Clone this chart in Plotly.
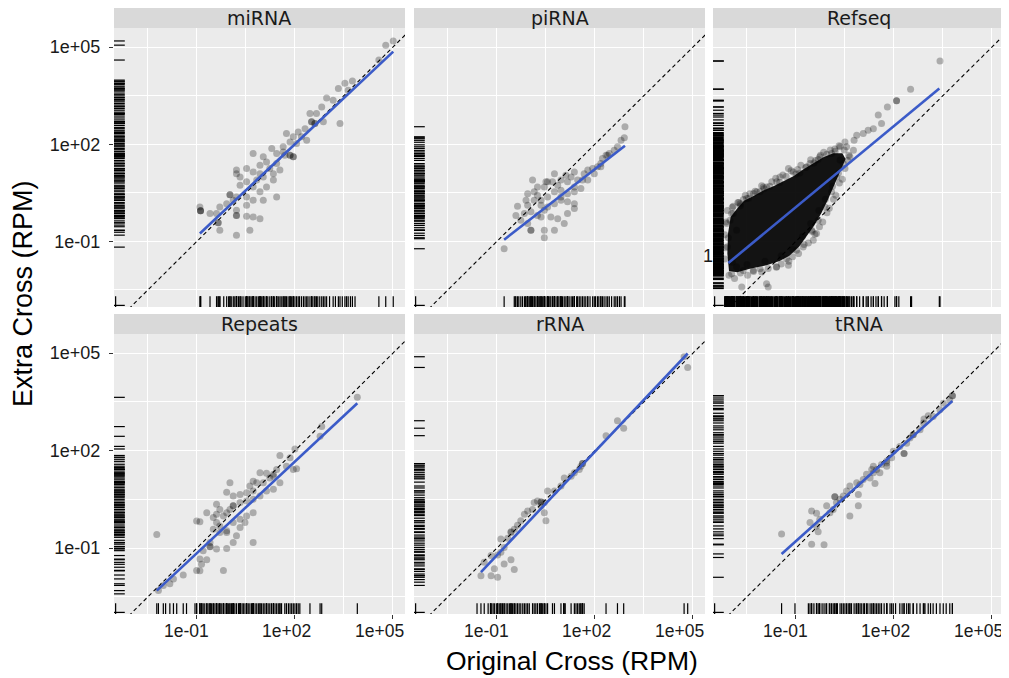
import numpy as np
import plotly.graph_objects as go

# ---------------- data (log10 RPM values) ----------------
panels = ["miRNA", "piRNA", "Refseq", "Repeats", "rRNA", "tRNA"]
tick_vals = [1e-1, 1e2, 1e5]
tick_text = ["1e-01", "1e+02", "1e+05"]
minor_grid_vals = [10 ** -2.5, 10 ** 0.5, 10 ** 3.5]
x_range_log = [-3.54, 5.37]
y_range_log = [-3.03, 5.59]

# (log10 original, log10 extra) for each plotted point
mirna_points_log = [
    (5.01, 5.19), (4.78, 5.06), (4.57, 4.60), (3.76, 3.95), (3.53, 3.88), (3.33, 3.72), (3.63, 3.67),
    (2.97, 3.43), (3.17, 3.36), (2.82, 3.15), (2.66, 2.95), (2.46, 2.95), (3.38, 2.64), (2.87, 2.69),
    (2.61, 2.64), (2.51, 2.69), (2.31, 2.48), (2.10, 2.38), (2.20, 2.23), (1.95, 2.23), (1.85, 2.07),
    (1.74, 2.33), (2.05, 2.02), (2.36, 2.12), (1.64, 1.92), (1.85, 1.66), (1.95, 1.61), (1.69, 1.66),
    (1.44, 1.71), (1.29, 1.87), (1.03, 1.61), (1.13, 1.45), (1.44, 1.40), (1.54, 1.20), (1.34, 1.09),
    (1.23, 1.25), (0.93, 1.35), (0.72, 1.71), (0.52, 1.25), (0.21, 1.20), (0.21, 1.09), (0.72, 1.14),
    (1.03, 0.99), (0.83, 0.89), (1.13, 0.68), (1.34, 0.89), (0.72, 0.68), (0.52, 0.84), (0.32, 0.73),
    (0.93, 0.53), (1.03, 0.27), (0.72, 0.27), (0.52, 0.37), (0.11, 0.27), (0.01, 0.44), (0.21, 0.37),
    (1.44, 0.37), (0.52, 0.11), (0.21, -0.04), (0.21, -0.20), (-0.09, 0.16), (-0.30, 0.06),
    (-0.40, -0.14), (-0.35, -0.43), (-0.30, -0.66), (-0.60, -0.14), (-0.91, 0.06), (-0.89, -0.06),
    (0.52, -0.23), (0.72, -0.25), (0.93, -0.30), (0.62, -0.66), (0.21, -0.81), (0.32, 0.99),
    (0.93, 1.09), (1.64, 1.76),
    (2.61, 2.64), (2.51, 2.69), (1.85, 1.66), (1.95, 1.61), (0.01, 0.44), (0.21, -0.20),
    (-0.35, -0.43), (-0.89, -0.06), (-0.89, -0.06),
]
pirna_points_log = [
    (2.92, 2.54), (2.90, 2.20), (2.80, 2.12), (2.69, 1.92), (2.59, 1.81), (2.44, 1.71), (2.34, 1.66),
    (2.23, 1.56), (2.18, 1.40), (2.08, 1.30), (1.93, 1.25), (1.98, 1.09), (1.78, 1.20), (1.67, 1.09),
    (1.62, 0.89), (1.47, 0.89), (1.37, 1.14), (1.27, 0.99), (1.16, 0.84), (1.11, 1.04), (0.96, 0.89),
    (0.86, 0.73), (0.76, 1.09), (0.70, 0.84), (0.55, 0.84), (0.45, 0.68), (0.24, 0.68), (0.14, 0.53),
    (0.24, 0.42), (0.35, 0.27), (0.55, 0.37), (0.76, 0.53), (0.96, 0.58), (1.16, 0.47), (1.37, 0.53),
    (1.37, 0.68), (1.57, 0.63), (1.16, 0.22), (0.96, 0.27), (0.76, 0.16), (0.55, 0.06), (0.35, 0.11),
    (0.14, 0.27), (-0.06, 0.47), (-0.11, 0.27), (-0.06, 0.11), (-0.16, -0.14), (0.04, -0.09),
    (0.24, -0.20), (0.45, -0.04), (0.65, -0.25), (0.86, -0.30), (1.06, -0.45), (0.76, -0.66),
    (0.45, -0.66), (0.04, -0.66), (-0.06, -0.45), (-0.27, -0.35), (-0.37, 0.08), (-0.42, -0.20),
    (0.45, -0.89), (-0.78, -1.23), (0.09, 0.89), (0.50, 0.84), (1.37, 0.01), (1.16, -0.14),
    (1.37, 0.16), (0.04, -0.66), (0.35, -0.25), (0.96, 0.37), (1.78, 0.89), (2.18, 1.30), (2.39, 1.66),
]
refseq_points_log = [
    (3.41, 4.57), (2.51, 3.70), (2.08, 3.34), (2.08, 3.34), (1.80, 3.15), (1.52, 2.90), (1.62, 2.64),
    (1.37, 2.48), (1.21, 2.43), (1.06, 2.33), (0.86, 2.28), (0.78, 2.12), (0.50, 2.07), (0.55, 1.92),
    (0.35, 1.92), (0.19, 1.85), (-0.06, 1.69), (-0.32, 1.53), (-0.57, 1.40), (-1.23, 1.25),
    (-0.88, 1.11), (-1.49, 0.99), (-1.74, 0.84), (-2.00, 0.68), (-2.10, 0.53), (-2.41, 0.47),
    (-2.61, 0.29), (-2.92, 0.08), (-2.97, -0.14), (-3.02, -0.35), (-2.82, -0.66), (-3.07, -0.89),
    (-2.97, -2.00), (-2.66, -2.41), (-1.90, -2.31), (-1.85, -2.41), (-1.59, -1.79), (-1.23, -1.74),
    (-0.78, -1.18), (-0.47, -0.97), (-0.37, -0.76), (-2.61, -1.90), (-2.31, -1.90), (0.35, 1.51),
    (0.65, 1.61), (0.76, 1.81), (0.24, 0.99), (0.09, 0.53), (-0.11, 0.06), (-0.32, -0.35),
    (-0.52, -0.66), (-0.98, -1.28), (-1.29, -1.54), (-2.10, -1.85), (-2.82, -1.79), (-3.10, -1.17),
    (-3.12, -0.45), (-2.92, -0.14), (-1.08, 1.14), (-0.67, 1.30), (-0.27, 1.61), (0.09, 1.71),
    (-2.51, 0.32), (-2.20, 0.53), (-1.90, 0.68), (-1.59, 0.84), (-2.71, 0.16), (0.45, 1.40),
    (0.30, 1.10), (0.12, 0.70), (-0.10, 0.30), (-0.30, -0.05), (-0.55, -0.45), (-0.80, -0.85),
    (-1.10, -1.25), (-1.45, -1.45), (-1.95, -1.62), (-2.50, -1.72), (-2.95, -1.65), (-1.40, 1.05),
    (-0.95, 1.22), (-0.40, 1.50), (-2.30, 0.48), (-2.75, 0.20),
    (-3.10, -0.05), (-2.95, 0.05), (-2.78, 0.20), (-2.70, 0.10), (-2.55, 0.42), (-2.45, 0.33),
    (-2.25, 0.55), (-2.05, 0.72), (-1.98, 0.62), (-1.80, 0.70), (-1.62, 0.95), (-1.50, 0.82),
    (-1.30, 1.00), (-1.15, 1.18), (-1.00, 1.08), (-0.85, 1.35), (-0.70, 1.28), (-0.55, 1.52),
    (-0.45, 1.42), (-0.25, 1.66), (-0.15, 1.75), (0.05, 1.82), (0.20, 1.78), (0.32, 1.95),
    (0.48, 1.82), (0.62, 1.66), (0.58, 1.50), (0.50, 1.25), (0.42, 0.92), (0.33, 0.80), (0.22, 0.42),
    (0.15, 0.30), (0.02, 0.02), (-0.05, -0.12), (-0.18, -0.40), (-0.28, -0.55), (-0.42, -0.78),
    (-0.50, -0.70), (-0.62, -1.05), (-0.75, -1.10), (-0.92, -1.38), (-1.10, -1.48), (-1.22, -1.62),
    (-1.45, -1.70), (-1.60, -1.80), (-1.85, -1.84), (-2.05, -1.95), (-2.30, -1.93), (-2.48, -2.05),
    (-2.70, -1.98), (-2.88, -2.15), (-3.05, -2.05), (-3.18, -1.55), (-3.15, -1.20), (-3.18, -0.80),
    (-3.14, -0.40),
]
# outline of the saturated (fully overlapping) core of the Refseq point cloud
refseq_core_log = [
    (-3.08, -0.76), (-3.00, -0.25), (-2.80, 0.01), (-2.59, 0.25), (-2.30, 0.40), (-2.00, 0.57),
    (-1.69, 0.70), (-1.39, 0.86), (-1.08, 1.01), (-0.78, 1.22), (-0.47, 1.40), (-0.16, 1.60),
    (0.14, 1.72), (0.42, 1.72), (0.52, 1.54), (0.38, 1.20), (0.17, 0.73), (-0.03, 0.27),
    (-0.23, -0.14), (-0.44, -0.51), (-0.69, -0.87), (-0.90, -1.16), (-1.20, -1.45), (-1.50, -1.61),
    (-1.90, -1.74), (-2.41, -1.85), (-2.80, -1.96), (-3.05, -1.92), (-3.10, -1.38),
]
repeats_points_log = [
    (3.91, 3.64), (2.82, 2.74), (2.77, 2.44), (2.00, 2.05), (1.85, 1.78), (1.54, 1.85), (1.95, 1.42),
    (2.05, 1.44), (1.74, 1.52), (1.44, 1.42), (1.34, 1.27), (1.13, 1.30), (0.93, 1.32), (1.23, 1.16),
    (1.54, 1.01), (1.03, 1.01), (0.83, 1.01), (0.72, 1.06), (0.62, 0.91), (0.72, 0.76), (0.52, 0.70),
    (0.32, 0.65), (0.11, 0.60), (-0.09, 0.72), (1.13, 0.76), (1.34, 0.81), (0.93, 0.60), (0.72, 0.50),
    (0.52, 0.45), (0.32, 0.40), (0.11, 0.30), (0.01, 0.19), (-0.09, 0.09), (-0.19, -0.01),
    (-0.40, 0.04), (-0.70, 0.09), (-0.91, -0.19), (-1.01, -0.17), (-0.40, -0.21), (-0.30, -0.32),
    (-0.50, -0.42), (-0.30, -0.52), (-0.09, -0.52), (0.21, -0.62), (0.11, -0.83), (0.32, -0.37),
    (0.47, -0.21), (0.72, 0.09), (0.72, -0.83), (-0.09, -1.01), (-0.40, -1.03), (-0.60, -0.95),
    (-0.81, -1.08), (-0.91, -1.34), (-0.86, -1.50), (-1.01, -1.69), (-0.70, -1.36), (-0.19, -1.69),
    (-2.23, -0.58), (-1.42, -1.83), (-1.72, -1.95), (-1.83, -2.10), (-2.03, -2.15), (-2.18, -2.31),
    (0.11, -0.21), (0.32, -0.11), (0.52, -0.01), (0.01, 1.01), (-0.40, 0.35), (-0.50, -0.06),
    (-0.60, -0.83), (-0.30, 0.19),
    (-0.60, -0.96), (-0.09, -0.47), (-0.91, -1.70), (1.34, 1.21), (0.11, 0.30),
]
rrna_points_log = [
    (4.84, 4.56), (4.73, 4.89), (2.69, 2.92), (2.88, 2.69), (2.34, 2.46), (1.62, 1.60), (1.62, 1.60),
    (1.57, 1.52), (1.52, 1.42), (1.37, 1.32), (1.27, 1.21), (1.06, 1.16), (0.96, 0.91), (0.76, 0.76),
    (0.55, 0.76), (0.45, 0.40), (0.35, 0.30), (0.45, 0.09), (0.50, -0.16), (0.14, 0.40), (0.09, 0.19),
    (-0.06, 0.14), (-0.16, 0.04), (-0.27, -0.16), (-0.37, -0.30), (-0.47, -0.42), (-0.57, -0.52),
    (-0.67, -0.70), (-0.88, -0.72), (-0.78, -0.98), (-0.88, -1.13), (-0.98, -1.21), (-1.18, -1.23),
    (-1.39, -1.44), (-1.49, -1.85), (-1.18, -1.85), (-0.98, -1.90), (-0.57, -1.36), (-0.47, -1.66),
    (-0.78, -1.49), (-1.08, -1.64), (0.35, 0.42), (0.35, 0.42), (0.24, 0.45), (-0.57, -0.50),
]
trna_points_log = [
    (-1.44, -0.57), (-0.52, 0.14), (-0.37, 0.07), (-0.57, -0.21), (-0.32, -0.50), (-0.52, -0.88),
    (-0.14, -0.90), (0.65, -0.01), (0.91, 0.30), (-0.06, 0.30), (0.14, 0.19), (0.24, 0.40),
    (0.19, 0.58), (0.35, 0.50), (0.55, 0.76), (0.65, 0.91), (0.86, 1.01), (0.96, 0.96), (1.06, 1.11),
    (1.16, 1.27), (1.27, 1.16), (1.42, 0.99), (1.32, 1.42), (1.37, 1.52), (1.47, 1.42), (1.62, 1.57),
    (1.78, 1.62), (1.93, 1.78), (1.98, 1.98), (2.18, 2.13), (2.31, 1.91), (2.39, 2.23), (2.49, 2.39),
    (2.59, 2.49), (2.80, 2.64), (2.90, 2.85), (3.05, 3.07), (3.20, 3.05), (3.41, 3.26), (3.51, 3.46),
    (3.71, 3.56), (3.79, 3.69), (0.91, 0.65), (0.45, 0.60), (0.04, 0.09), (-0.27, -0.11),
    (-0.37, -0.32), (1.57, 1.32), (1.78, 1.52),
    (0.19, 0.58), (2.31, 1.91), (2.59, 2.49), (1.37, 1.32), (2.92, 2.97), (1.78, 1.68), (3.79, 3.69),
]

# marginal values of features that are zero in the other cross (log10 RPM), shown only in the rugs
mirna_rug_x_extra = [-0.18, -0.03, 0.05, 0.14, 0.27, 0.35, 0.41, 0.48, 0.56, 0.60, 0.66, 0.78, 0.88,
                     0.97, 1.08, 1.17, 1.28, 1.38, 1.49, 1.58, 1.70, 1.79, 1.90, 2.00, 2.14, 2.26, 2.40,
                     2.55, 2.70, 2.76, 2.92, 3.06, 3.24, 3.45, 3.58, 3.70, 3.84]
mirna_rug_y_extra = [3.98, 3.93, 3.88, 3.84, 3.79, 3.74, 3.70, 3.64, 3.58, 3.53, 3.49, 3.44, 3.38, 3.31,
                     3.26, 3.21, 3.17, 3.10, 3.05, 2.99, 2.92, 2.87, 2.81, 2.75, 2.70, 2.58, 2.52, 2.43,
                     2.36, 2.28, 2.19, 2.15, 2.09, 1.98, 1.95, 1.83, 1.78, 1.69, 1.56, 1.50, 1.40, 1.32,
                     1.19, 1.03, 0.95, 0.80, 0.63, 0.58, 0.47, 0.33, 0.20, 0.02, -0.10, -0.28, -0.37,
                     -0.50, -0.55, -0.72, -1.18]
pirna_rug_x_extra = [-0.47, -0.44, -0.33, -0.22, -0.12, -0.01, 0.07, 0.19, 0.28, 0.31, 0.40, 0.58, 0.62,
                     0.71, 0.81, 0.90, 1.01, 1.21, 1.31, 1.44, 1.52, 1.72, 1.85, 2.02, 2.12, 2.28, 2.51,
                     2.64, 2.75]
pirna_rug_y_extra = [2.23, 2.17, 2.06, 1.98, 1.87, 1.76, 1.62, 1.50, 1.35, 1.18, 0.95, 0.78, 0.55, 0.33,
                     0.03, -0.06, -0.24, -0.38, -0.51, -0.58, -0.75, -0.82, -0.92]
refseq_rug_x_dense = [-3.13, -3.05, -2.98, -2.90, -2.81, -2.74, -2.66, -2.59, -2.50, -2.43, -2.35, -2.27,
                      -2.20, -2.11, -2.04, -1.96, -1.88, -1.80, -1.73, -1.65, -1.57, -1.49, -1.42, -1.34,
                      -1.26, -1.19, -1.10, -1.03, -0.95, -0.87, -0.80, -0.72, -0.64, -0.57, -0.49, -0.41,
                      -0.34, -0.26, -0.18, -0.11, -0.03, 0.05, 0.12, 0.20, 0.28, 0.36, 0.43]
refseq_rug_x_extra = [0.55, 0.62, 0.70, 0.75, 0.86, 0.95, 1.06, 1.15, 1.21, 1.30, 1.37, 1.45, 1.52,
                      1.62, 1.70, 1.80, 2.03, 2.15, 2.54, 3.39]
refseq_rug_y_dense = [-2.01, -1.94, -1.86, -1.78, -1.71, -1.62, -1.55, -1.47, -1.39, -1.32, -1.23, -1.16,
                      -1.08, -1.00, -0.93, -0.84, -0.77, -0.69, -0.61, -0.54, -0.45, -0.38, -0.30, -0.22,
                      -0.15, -0.06, 0.01, 0.09, 0.17, 0.24, 0.33, 0.40, 0.48, 0.56, 0.63, 0.72, 0.79,
                      0.87, 0.95, 1.02, 1.11, 1.18, 1.26, 1.34, 1.41, 1.50, 1.57, 1.65, 1.73, 1.80, 1.89,
                      1.96, 2.04, 2.12, 2.19, 2.27]
refseq_rug_y_extra = [4.57, 3.70, 3.36, 3.15, 3.05, 2.95, 2.84, 2.75, 2.66, 2.58, 2.50, 2.43, 2.36,
                      -2.10, -2.18, -2.28, -2.37, -2.46]
repeats_rug_x_extra = [-1.96, -1.62, -1.32, -1.06, -0.85, -0.76, -0.66, -0.55, -0.45, -0.35, -0.24,
                       -0.14, -0.04, 0.06, 0.16, 0.27, 0.38, 0.42, 0.57, 0.67, 0.78, 0.88, 0.98, 1.08,
                       1.18, 1.28, 1.39, 1.49, 1.59, 1.69, 1.80, 1.90, 2.10, 2.15, 2.46]
repeats_rug_y_extra = [2.13, 1.80, 1.72, 1.66, 1.58, 1.48, 1.37, 1.24, 1.12, 1.05, 0.96, 0.86, 0.66,
                       0.55, 0.35, 0.25, 0.14, -0.05, -0.14, -0.26, -0.36, -0.47, -0.57, -0.67, -0.76,
                       -0.88, -1.23, -1.44, -1.59, -2.41]
rrna_rug_x_extra = [-1.61, -1.27, -1.20, -1.12, -1.02, -0.93, -0.83, -0.72, -0.62, -0.52, -0.42, -0.32,
                    -0.21, -0.11, -0.01, 0.19, 0.30, 0.40, 0.70, 1.04, 1.09, 1.42, 1.47, 1.57, 1.67]
rrna_rug_y_extra = [1.55, 1.47, 1.38, 1.26, 1.13, 1.03, 0.85, 0.70, 0.63, 0.55, 0.49, 0.35, 0.27, 0.22,
                    0.12, 0.00, -0.08, -0.22, -0.34, -0.40, -0.60, -0.66, -0.78, -0.85, -0.91, -1.04,
                    -1.10, -1.28, -1.33, -1.55, -1.72, -1.80, -1.97, -2.05, -2.15]
trna_rug_x_extra = [-1.03, -0.62, -0.45, -0.28, -0.20, -0.08, 0.02, 0.09, 0.27, 0.40, 0.50, 0.60, 0.70,
                    0.78, 0.84, 1.00, 1.10, 1.20, 1.52, 1.70, 1.88, 2.05, 2.25, 2.45, 2.70, 2.95, 3.12,
                    3.30, 3.60]
trna_rug_y_extra = [3.62, 3.50, 3.38, 3.30, 3.15, 3.00, 2.92, 2.76, 2.70, 2.55, 2.45, 2.33, 2.28, 2.05,
                    1.86, 1.73, 1.47, 1.36, 1.20, 1.05, 0.85, 0.70, 0.45, 0.35, 0.25, -0.05, -0.17,
                    -0.41, -0.62, -0.71, -1.18, -1.29, -1.90]

# linear fit (geom_smooth, method = "lm") end points, log10 RPM
fit_start_log = [(-0.91, -0.76), (-0.78, -0.95), (-3.07, -1.67), (-2.23, -2.31), (-1.49, -1.74), (-1.44, -1.18)]
fit_end_log = [(5.01, 4.86), (2.92, 1.95), (3.39, 3.72), (3.91, 3.46), (4.84, 4.99), (3.79, 3.53)]
# identity line y = x
identity_line = [1e-4, 1e6]

points_log = [mirna_points_log, pirna_points_log, refseq_points_log,
              repeats_points_log, rrna_points_log, trna_points_log]
rug_x_extra = [mirna_rug_x_extra, pirna_rug_x_extra, refseq_rug_x_extra,
               repeats_rug_x_extra, rrna_rug_x_extra, trna_rug_x_extra]
rug_y_extra = [mirna_rug_y_extra, pirna_rug_y_extra, refseq_rug_y_extra,
               repeats_rug_y_extra, rrna_rug_y_extra, trna_rug_y_extra]

# ---------------- layout geometry (pixels of the 1009x678 window) ----------------
# the page body keeps its default 8px margin, so the figure is 8px smaller on each side
OFF = 8
WIN_W, WIN_H = 1009, 678
W, H = WIN_W - OFF, WIN_H - OFF
col_px = [(114, 405), (414, 705), (713, 1004)]
row_px = [(28, 307), (334, 614)]
strip_h = 20
x_label_shift = [-10, -8, -13]
FONT = "Liberation Sans, Arial, sans-serif"
TEXT = "#1a1a1a"


def pfx(px):
    return (px - OFF) / W


def pfy(py):
    return 1 - (py - OFF) / H


def p10(v):
    return [10 ** a for a in v]


fig = go.Figure()
layout = dict(width=W, height=H, margin=dict(l=0, r=0, t=0, b=0), autosize=False,
              paper_bgcolor="white", plot_bgcolor="#EBEBEB", showlegend=False,
              font=dict(family=FONT, color=TEXT))
annotations = []
shapes = []

# rug geometry: ggplot rug length = 3% of the panel
rug_len = 9
x_rug_pos = 10 ** (y_range_log[0] + (rug_len / 2) / (row_px[0][1] - row_px[0][0]) * (y_range_log[1] - y_range_log[0]))
y_rug_pos = 10 ** (x_range_log[0] + (rug_len / 2) / (col_px[0][1] - col_px[0][0]) * (x_range_log[1] - x_range_log[0]))
zero_x = x_range_log[0] + 0.05
zero_y = y_range_log[0] + 0.05

for i, name in enumerate(panels):
    r, c = divmod(i, 3)
    n = i + 1
    xa = "x" if n == 1 else f"x{n}"
    ya = "y" if n == 1 else f"y{n}"
    x0, x1 = col_px[c]
    y0, y1 = row_px[r]

    layout[f"xaxis{n}"] = dict(
        type="log", range=x_range_log, domain=[pfx(x0), pfx(x1)], anchor=ya,
        tickvals=tick_vals, ticktext=tick_text, showticklabels=False,
        ticks="outside" if r == 1 else "", ticklen=4, tickwidth=1, tickcolor="#333333",
        showgrid=True, gridcolor="white", gridwidth=1.3, zeroline=False, showline=False,
        minor=dict(tickvals=minor_grid_vals, showgrid=True, gridcolor="white", gridwidth=0.6, ticks=""),
    )
    layout[f"yaxis{n}"] = dict(
        type="log", range=y_range_log, domain=[pfy(y1), pfy(y0)], anchor=xa,
        tickvals=tick_vals, ticktext=tick_text, showticklabels=(c == 0),
        ticks="outside" if c == 0 else "", ticklen=4, tickwidth=1, tickcolor="#333333",
        tickfont=dict(size=18, color=TEXT, family=FONT), ticklabelstandoff=5,
        showgrid=True, gridcolor="white", gridwidth=1.3, zeroline=False, showline=False,
        minor=dict(tickvals=minor_grid_vals, showgrid=True, gridcolor="white", gridwidth=0.6, ticks=""),
    )

    # strip
    shapes.append(dict(type="rect", xref="paper", yref="paper", x0=pfx(x0), x1=pfx(x1),
                       y0=pfy(y0), y1=pfy(y0 - strip_h), fillcolor="#D9D9D9", line=dict(width=0),
                       layer="below"))
    annotations.append(dict(text=name, xref="paper", yref="paper", x=pfx((x0 + x1) / 2),
                            y=pfy(y0 - strip_h / 2), showarrow=False, xanchor="center",
                            yanchor="middle", font=dict(family="DejaVu Sans", size=19, color=TEXT)))

    pts = points_log[i]
    px_log = [p[0] for p in pts]
    py_log = [p[1] for p in pts]

    if name == "Refseq":
        fig.add_trace(go.Scatter(x=p10([p[0] for p in refseq_core_log]),
                                 y=p10([p[1] for p in refseq_core_log]),
                                 mode="lines", fill="toself", fillcolor="rgba(0,0,0,0.92)",
                                 line=dict(width=0, color="rgba(0,0,0,0)"),
                                 xaxis=xa, yaxis=ya, hoverinfo="skip"))

    # points
    fig.add_trace(go.Scatter(x=p10(px_log), y=p10(py_log), mode="markers",
                             marker=dict(size=7, color="rgba(0,0,0,0.27)", line=dict(width=0)),
                             xaxis=xa, yaxis=ya))

    # rugs
    rx = px_log + rug_x_extra[i] + [zero_x]
    ry = py_log + rug_y_extra[i] + [zero_y]
    fig.add_trace(go.Scatter(x=p10(rx), y=[x_rug_pos] * len(rx), mode="markers",
                             marker=dict(symbol="line-ns", size=rug_len, line=dict(width=1.2, color="black")),
                             xaxis=xa, yaxis=ya, hoverinfo="skip"))
    fig.add_trace(go.Scatter(x=[y_rug_pos] * len(ry), y=p10(ry), mode="markers",
                             marker=dict(symbol="line-ew", size=rug_len, line=dict(width=1.2, color="black")),
                             xaxis=xa, yaxis=ya, hoverinfo="skip"))
    if name == "Refseq":
        fig.add_trace(go.Scatter(x=p10(refseq_rug_x_dense), y=[x_rug_pos] * len(refseq_rug_x_dense),
                                 mode="markers",
                                 marker=dict(symbol="line-ns", size=rug_len, line=dict(width=2.8, color="black")),
                                 xaxis=xa, yaxis=ya, hoverinfo="skip"))
        fig.add_trace(go.Scatter(x=[y_rug_pos] * len(refseq_rug_y_dense), y=p10(refseq_rug_y_dense),
                                 mode="markers",
                                 marker=dict(symbol="line-ew", size=rug_len, line=dict(width=2.8, color="black")),
                                 xaxis=xa, yaxis=ya, hoverinfo="skip"))

    # identity line
    fig.add_trace(go.Scatter(x=identity_line, y=identity_line, mode="lines",
                             line=dict(color="black", width=1.1, dash="4px,3px"),
                             xaxis=xa, yaxis=ya, hoverinfo="skip"))
    # linear fit
    fs, fe = fit_start_log[i], fit_end_log[i]
    fig.add_trace(go.Scatter(x=p10([fs[0], fe[0]]), y=p10([fs[1], fe[1]]), mode="lines",
                             line=dict(color="#3b5bc8", width=2.6),
                             xaxis=xa, yaxis=ya, hoverinfo="skip"))

    # x tick labels on bottom row
    if r == 1:
        for v, t, sh in zip(tick_vals, tick_text, x_label_shift):
            annotations.append(dict(text=t, xref=xa, yref="paper", x=np.log10(v), y=pfy(631),
                                    xshift=sh, showarrow=False, xanchor="center", yanchor="middle",
                                    font=dict(size=17.5, color=TEXT, family=FONT)))

# axis titles
annotations.append(dict(text="Original Cross (RPM)", xref="paper", yref="paper", x=pfx(572), y=pfy(661),
                        showarrow=False, xanchor="center", yanchor="middle",
                        font=dict(size=26.5, color="black", family=FONT)))
annotations.append(dict(text="Extra Cross (RPM)", xref="paper", yref="paper", x=pfx(23), y=pfy(294),
                        showarrow=False, xanchor="center", yanchor="middle", textangle=-90,
                        font=dict(size=27, color="black", family=FONT)))
# stray label fragment visible left of the Refseq panel
annotations.append(dict(text="1", xref="paper", yref="paper", x=pfx(708), y=pfy(256),
                        showarrow=False, xanchor="center", yanchor="middle",
                        font=dict(size=18, color=TEXT, family=FONT)))

layout["annotations"] = annotations
layout["shapes"] = shapes
fig.update_layout(**layout)
fig.write_html("out.html")
